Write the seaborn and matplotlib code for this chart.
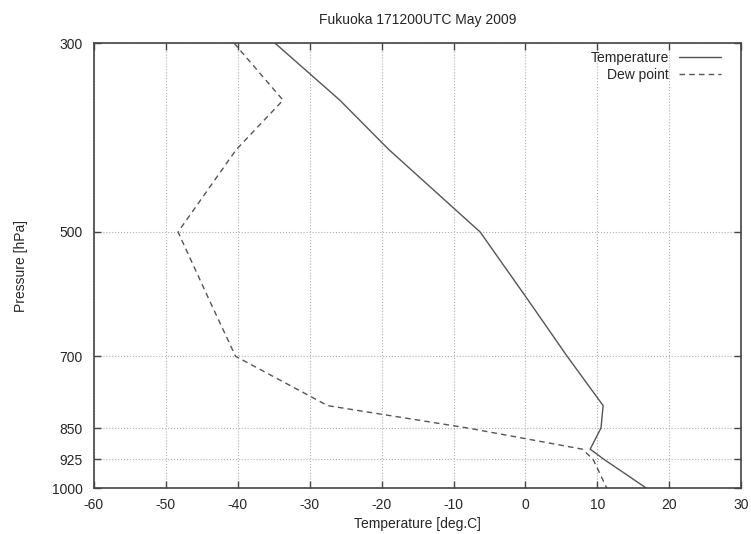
import numpy as np
import pandas as pd
import matplotlib
matplotlib.use("Agg")
import matplotlib.pyplot as plt
import seaborn as sns
from matplotlib.ticker import FixedLocator, NullLocator

# sounding levels (hPa) and values
pressure = [300, 350, 400, 500, 600, 700, 800, 850, 900, 925, 1000]
temperature = [-34.8, -25.8, -19.0, -6.3, 0.3, 5.8, 10.8, 10.5, 9.0, 10.9, 16.8]
dew_point = [-40.5, -33.7, -40.2, -48.3, -44.0, -40.3, -27.5, -8.0, 7.9, 9.4, 11.3]

ptick = [300, 500, 700, 850, 925, 1000]
xtick = list(range(-60, 31, 10))

sns.set_style("ticks")
plt.rcParams['font.family'] = ['Liberation Sans', 'DejaVu Sans']
plt.rcParams['axes.unicode_minus'] = False

df = pd.DataFrame({'Pressure': pressure, 'Temperature': temperature, 'Dew point': dew_point})

fig = plt.figure(figsize=(7.51, 5.34), dpi=100)
ax = fig.add_axes([0.125, 0.086, 0.862, 0.833])

line_col = '#555555'
sns.lineplot(x='Temperature', y='Pressure', data=df, sort=False, estimator=None,
             color=line_col, linewidth=1.0, label='Temperature', ax=ax)
sns.lineplot(x='Dew point', y='Pressure', data=df, sort=False, estimator=None,
             color=line_col, linewidth=1.0, linestyle=(0, (4, 3)), label='Dew point', ax=ax)

ax.set_yscale('log')
ax.set_ylim(1000, 300)
ax.yaxis.set_major_locator(FixedLocator(ptick))
ax.yaxis.set_minor_locator(NullLocator())
ax.set_yticklabels([str(p) for p in ptick])
ax.set_xlim(-60, 30)
ax.set_xticks(xtick)

ax.grid(True, color='#b0b0b0', linestyle=':', linewidth=0.8)
ax.tick_params(direction='in', top=True, right=True, length=5, width=1, labelsize=10, color='#444444')
ax.tick_params(axis='y', pad=8)
ax.tick_params(axis='x', pad=7)
for s in ax.spines.values():
    s.set_color('#444444')
    s.set_linewidth(1.2)

ax.set_xlabel('Temperature [deg.C]', fontsize=10, labelpad=4)
ax.set_ylabel('Pressure [hPa]', fontsize=10, labelpad=17)
ax.set_title('Fukuoka 171200UTC May 2009', fontsize=10, pad=14)

ax.legend(loc='upper right', bbox_to_anchor=(0.983, 1.004), frameon=False, markerfirst=False,
          fontsize=10, handlelength=3.0, borderaxespad=0.3, labelspacing=0.2, handletextpad=0.7)

fig.savefig('out.png', dpi=100)
